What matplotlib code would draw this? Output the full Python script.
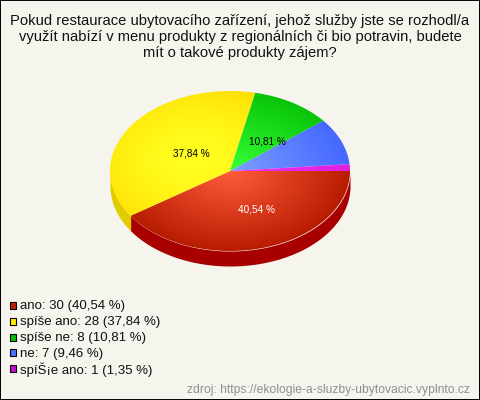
# -*- coding: utf-8 -*-

import numpy as np
import matplotlib
matplotlib.use('Agg')
import matplotlib.pyplot as plt

plt.rcParams['font.family'] = ['Liberation Sans', 'DejaVu Sans']

categories = ['ano', 'spíše ano', 'spíše ne', 'ne', 'spíŠ¡e ano']
values = [30, 28, 8, 7, 1]
shown_labels = ['40,54 %', '37,84 %', '10,81 %', None, None]
legend_pct = ['40,54 %', '37,84 %', '10,81 %', '9,46 %', '1,35 %']

title_lines = ['Pokud restaurace ubytovacího zařízení, jehož služby jste se rozhodl/a',
               'využít nabízí v menu produkty z regionálních či bio potravin, budete',
               'mít o takové produkty zájem?']
source = 'zdroj: https://ekologie-a-sluzby-ubytovacic.vyplnto.cz'

# couleurs : centre du degrade, bord, cote, legende
inner = ['#ff5c3c', '#ffff20', '#38ff38', '#7c9eff', '#f030f0']
outer = ['#b81c00', '#ffdc00', '#08c408', '#4468ff', '#e020e0']
side = ['#a80000', '#e2cb00', '#08a008', '#3050d0', '#b010b0']
legend_col = ['#c02000', '#ffee00', '#00c000', '#4a70ff', '#c010d0']
bg = '#f5f4ed'

W, H = 480, 400
cx, cy, rx, ry, depth = 230, 171, 120, 80, 15


def fx(x):
    return x / W


def fy(y):
    return 1 - y / H


fig = plt.figure(figsize=(W / 100, H / 100), dpi=100, facecolor=bg)

# axes dont l'unite vaut le rayon de l'ellipse
ax = fig.add_axes([0, 0, 1, 1])
wedges, _ = ax.pie(values, startangle=0, counterclock=False, radius=1,
                   center=(0, 0), wedgeprops=dict(facecolor='none', linewidth=0))
ax.set_aspect('auto')
ax.axis('off')

# cote du camembert
d = depth / ry
fracs = np.cumsum([0] + values) / sum(values) * 360
for i in range(len(values)):
    a0, a1 = fracs[i], min(fracs[i + 1], 180)
    if a0 >= 180:
        continue
    t = np.radians(np.linspace(a0, a1, 80))
    ax.fill_between(np.cos(t), -np.sin(t), -np.sin(t) - d,
                    color=side[i], linewidth=0, zorder=1)

# degrade radial de chaque part
xx, yy = np.meshgrid(np.linspace(-1.02, 1.02, 400), np.linspace(-1.02, 1.02, 400))
gc = [(0, 0), (-0.3, 0.15), (0, 0), (0, 0), (0, 0)]
gp = [1.0, 1.6, 1.0, 1.0, 1.0]
for i, w in enumerate(wedges):
    r = np.clip(np.hypot(xx - gc[i][0], yy - gc[i][1]), 0, 1) ** gp[i]
    c0 = np.array(matplotlib.colors.to_rgb(inner[i]))
    c1 = np.array(matplotlib.colors.to_rgb(outer[i]))
    img = c0 + (c1 - c0) * r[..., None]
    im = ax.imshow(img, extent=(-1.02, 1.02, -1.02, 1.02), origin='lower',
                   aspect='auto', zorder=2, interpolation='bilinear')
    im.set_clip_path(w)
ax.set_xlim(-cx / rx, (W - cx) / rx)
ax.set_ylim((cy - H) / ry, cy / ry)

# textes
title_y = [20, 35.5, 51]
for line, y in zip(title_lines, title_y):
    fig.text(0.5, fy(y), line, ha='center', va='center_baseline', fontsize=10.6,
             color='#111111')

label_pos = [(256, 210), (191, 153), (267, 142)]
label_col = ['white', 'black', 'black']
for s, p, c in zip(shown_labels, label_pos, label_col):
    fig.text(fx(p[0]), fy(p[1]), s, ha='center', va='center', fontsize=7.2, color=c)

# legende
ys = [305, 321, 337, 352.5, 368]
for i, name in enumerate(categories):
    fig.patches.append(plt.Rectangle((fx(10), fy(ys[i] + 3.5)), 6 / W, 7 / H,
                                     transform=fig.transFigure,
                                     facecolor=legend_col[i], edgecolor='black',
                                     linewidth=0.8, figure=fig))
    fig.text(fx(20), fy(ys[i] + 1.5), '%s: %d (%s)' % (name, values[i], legend_pct[i]),
             ha='left', va='center', fontsize=9.55, color='#111111')

fig.text(fx(470), fy(389.5), source, ha='right', va='center', fontsize=8.75, color='#909090')

# cadre noir
fig.patches.append(plt.Rectangle((0, 0), 1, 1, transform=fig.transFigure,
                                 facecolor='none', edgecolor='black',
                                 linewidth=1.4, figure=fig))

fig.savefig('out.png', dpi=100, facecolor=bg)
